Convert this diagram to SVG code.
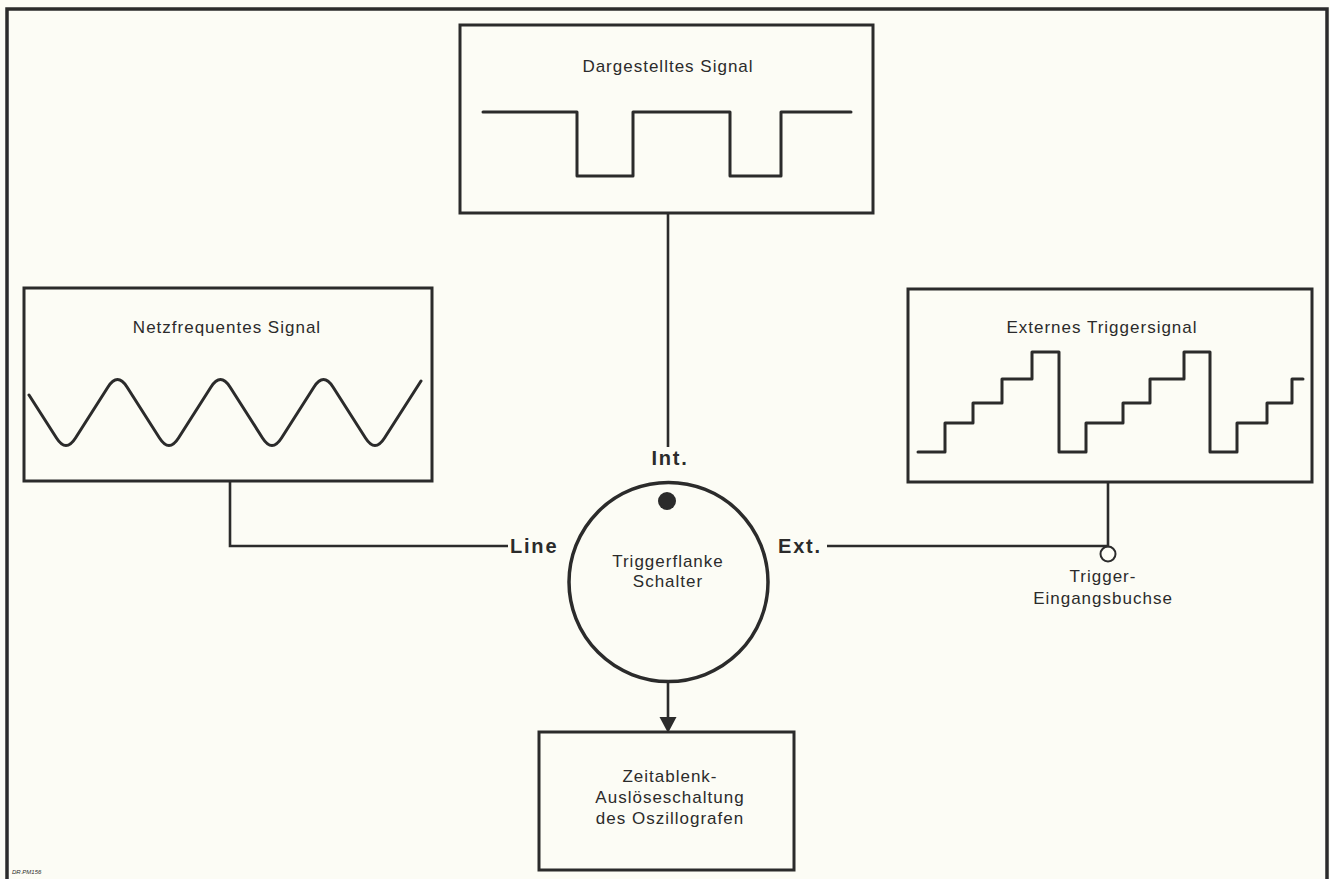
<svg xmlns="http://www.w3.org/2000/svg" width="1330" height="879" viewBox="0 0 1330 879">
<style>
.box{fill:none;stroke:#2b2b2b;stroke-width:3}
.wave{fill:none;stroke:#2b2b2b;stroke-width:3;stroke-linejoin:round;stroke-linecap:round}
.conn{fill:none;stroke:#2b2b2b;stroke-width:2.6}
.t{font-family:"Liberation Sans",Arial,sans-serif;font-size:17px;fill:#2b2b2b;text-anchor:middle;letter-spacing:1px}
.b{font-family:"Liberation Sans",Arial,sans-serif;font-weight:bold;font-size:20px;fill:#2b2b2b;letter-spacing:1.8px}
</style>
<rect x="0" y="0" width="1330" height="879" fill="#fcfcf5"/>
<path d="M7,879 V9 H1327 V879" fill="none" stroke="#2b2b2b" stroke-width="3.5"/>

<g id="displayed-signal">
<rect class="box" x="460" y="25" width="413" height="188"/>
<text class="t" x="668" y="72">Dargestelltes Signal</text>
<path class="wave" d="M483,112 H577 V176 H633 V112 H730 V176 H781 V112 H851"/>
</g>

<g id="line-signal">
<rect class="box" x="24" y="288" width="408" height="193"/>
<text class="t" x="227" y="333">Netzfrequentes Signal</text>
<path class="wave" d="M29,395 L56.5,438 Q66,453 75.5,438 L108,387 Q117.5,372 127,387 L159.5,438 Q169,453 178.5,438 L211,387 Q220.5,372 230,387 L262.5,438 Q272,453 281.5,438 L314,387 Q323.5,372 333,387 L365.5,438 Q375,453 384.5,438 L421,381"/>
</g>

<g id="external-signal">
<rect class="box" x="908" y="289" width="404" height="193"/>
<text class="t" x="1102" y="333">Externes Triggersignal</text>
<path class="wave" d="M918,452 H945 V423 H973 V403 H1002 V379 H1032 V352 H1059 V452 H1086 V423 H1123 V403 H1150 V379 H1184 V352 H1210 V452 H1237 V423 H1267 V403 H1292 V379 H1303"/>
</g>

<g id="switch">
<circle cx="668.5" cy="582" r="99.5" fill="none" stroke="#2b2b2b" stroke-width="3.5"/>
<circle cx="667" cy="501" r="9" fill="#2b2b2b"/>
<text class="t" x="668" y="567">Triggerflanke</text>
<text class="t" x="668" y="587">Schalter</text>
<text class="b" x="670" y="465" text-anchor="middle">Int.</text>
<text class="b" x="510" y="553">Line</text>
<text class="b" x="778" y="553">Ext.</text>
</g>

<g id="sweep-trigger">
<rect class="box" x="539" y="732" width="255" height="138"/>
<text class="t" x="670" y="782">Zeitablenk-</text>
<text class="t" x="670" y="803">Auslöseschaltung</text>
<text class="t" x="670" y="824">des Oszillografen</text>
</g>

<g id="trigger-input">
<circle cx="1108" cy="554" r="7.5" fill="#fcfcf5" stroke="#2b2b2b" stroke-width="2"/>
<text class="t" x="1103" y="582">Trigger-</text>
<text class="t" x="1103" y="604">Eingangsbuchse</text>
</g>

<g id="connectors">
<path class="conn" d="M668,213 V447"/>
<path class="conn" d="M230,481 V546 H508"/>
<path class="conn" d="M827,546 H1108 V482"/>
<path class="conn" d="M668,681 V720"/>
<polygon points="659.5,717 676.5,717 668,733" fill="#2b2b2b"/>
</g>

<text x="12" y="874" font-family="Liberation Sans,Arial,sans-serif" font-size="6" font-style="italic" fill="#2b2b2b">DR.PM156</text>
</svg>
